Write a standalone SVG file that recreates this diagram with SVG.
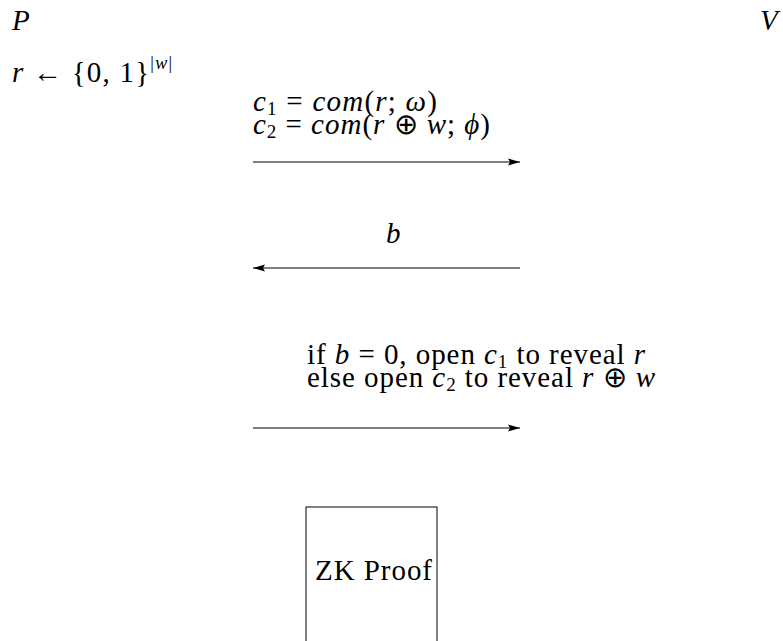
<svg xmlns="http://www.w3.org/2000/svg" width="783" height="641" viewBox="0 0 783 641">
<style>
text{font-family:"Liberation Serif","Times New Roman",serif;font-size:29px;fill:#000}
.i{font-style:italic}
.sub{font-size:19px}
.sup{font-size:18px}
.line{stroke:#000;stroke-width:1.1;fill:none}
</style>
<defs>
<marker id="ah" viewBox="0 0 12 8" refX="12" refY="4" markerWidth="12" markerHeight="8" markerUnits="userSpaceOnUse" orient="auto-start-reverse">
<path d="M0,0.5 L12,4 L0,7.5 L2,4 Z" fill="#000"/>
</marker>
</defs>
<rect width="783" height="641" fill="#fff"/>
<g id="party-p"><text x="12" y="30" class="i">P</text></g>
<g id="party-v"><text x="760" y="30" class="i">V</text></g>
<g id="rand"><text x="12" y="82" textLength="160" lengthAdjust="spacing"><tspan class="i">r</tspan> ← {0, 1}<tspan class="sup" dy="-13">|<tspan class="i">w</tspan>|</tspan></text></g>
<g id="msg1">
<text x="253" y="111" textLength="184" lengthAdjust="spacing"><tspan class="i">c</tspan><tspan class="sub" dy="4">1</tspan><tspan dy="-4"> = </tspan><tspan class="i">com</tspan>(<tspan class="i">r</tspan>; <tspan class="i">ω</tspan>)</text>
<text x="253" y="134" textLength="237" lengthAdjust="spacing"><tspan class="i">c</tspan><tspan class="sub" dy="4">2</tspan><tspan dy="-4"> = </tspan><tspan class="i">com</tspan>(<tspan class="i">r</tspan> ⊕ <tspan class="i">w</tspan>; <tspan class="i">ϕ</tspan>)</text>
</g>
<g id="msg2"><text x="386" y="243" class="i">b</text></g>
<g id="msg3">
<text x="307" y="364" textLength="338" lengthAdjust="spacing">if <tspan class="i">b</tspan> = 0, open <tspan class="i">c</tspan><tspan class="sub" dy="4">1</tspan><tspan dy="-4"> to reveal </tspan><tspan class="i">r</tspan></text>
<text x="307" y="387" textLength="348" lengthAdjust="spacing">else open <tspan class="i">c</tspan><tspan class="sub" dy="4">2</tspan><tspan dy="-4"> to reveal </tspan><tspan class="i">r</tspan> ⊕ <tspan class="i">w</tspan></text>
</g>
<g id="zk-proof">
<rect x="306" y="507" width="131" height="145" fill="#fff" stroke="#000" stroke-width="1"/>
<text x="315" y="580" textLength="117" lengthAdjust="spacing">ZK Proof</text>
</g>
<g id="connectors">
<line class="line" x1="253" y1="162" x2="520" y2="162" marker-end="url(#ah)"/>
<line class="line" x1="520" y1="268" x2="253" y2="268" marker-end="url(#ah)"/>
<line class="line" x1="253" y1="428" x2="520" y2="428" marker-end="url(#ah)"/>
</g>
</svg>
